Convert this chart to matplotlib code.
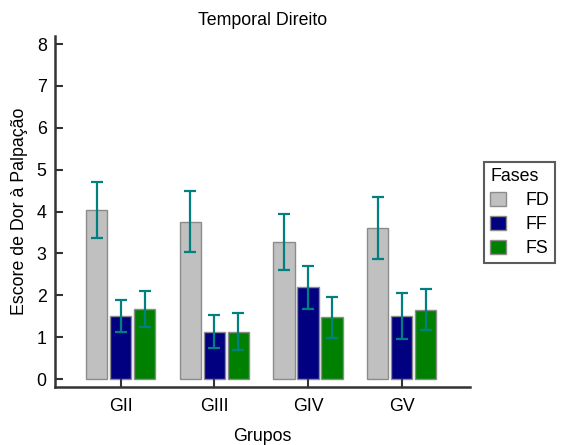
import matplotlib

matplotlib.use("Agg")

import matplotlib.pyplot as plt
import numpy as np

plt.rcParams["font.family"] = ["Liberation Sans", "DejaVu Sans"]

groups = ["GII", "GIII", "GIV", "GV"]
phases = ["FD", "FF", "FS"]
colors = ["#c0c0c0", "#000080", "#008000"]

fd_mean = [4.03, 3.76, 3.27, 3.61]
fd_err = [0.67, 0.73, 0.66, 0.74]
ff_mean = [1.50, 1.13, 2.19, 1.50]
ff_err = [0.38, 0.40, 0.52, 0.55]
fs_mean = [1.67, 1.13, 1.47, 1.66]
fs_err = [0.43, 0.44, 0.49, 0.50]

means = [fd_mean, ff_mean, fs_mean]
errs = [fd_err, ff_err, fs_err]

FS = 12.8

fig = plt.figure(figsize=(5.63, 4.45), dpi=100)
ax = fig.add_axes([0.0977, 0.1303, 0.7373, 0.7887])

x = np.arange(len(groups))
width = 0.225
step = 0.256
for i, (label, color) in enumerate(zip(phases, colors)):
    ax.bar(x + (i - 1) * step, means[i], width, color=color, edgecolor="#8c8c8c",
           linewidth=1, label=label)
    ax.errorbar(x + (i - 1) * step, means[i], yerr=errs[i], fmt="none",
                ecolor="#008080", elinewidth=1.6, capsize=4, capthick=1.6)

ax.set_xlim(-0.70, 3.73)
ax.set_ylim(-0.19, 8.19)
ax.set_yticks(range(0, 9))
ax.set_xticks(x)
ax.set_xticklabels(groups)
for side in ("top", "right"):
    ax.spines[side].set_visible(False)
for side in ("left", "bottom"):
    ax.spines[side].set_color("#333333")
    ax.spines[side].set_linewidth(1.8)
ax.tick_params(direction="in", length=6, width=1.5, color="#333333", labelsize=FS)
ax.tick_params(axis="x", pad=8)
ax.tick_params(axis="y", pad=6)

ax.set_title("Temporal Direito", fontsize=FS, pad=8)
ax.set_xlabel("Grupos", fontsize=FS, labelpad=9)
ax.set_ylabel("Escore de Dor à Palpação", fontsize=FS, labelpad=6)

leg = ax.legend(title="Fases", loc="upper left", bbox_to_anchor=(0.86, 0.636),
                bbox_transform=fig.transFigure, fancybox=False, edgecolor="#333333",
                fontsize=FS, title_fontsize=FS, handlelength=0.85, handleheight=0.85,
                borderpad=0.35, labelspacing=0.38, handletextpad=1.1, alignment="left",
                borderaxespad=0)
leg.get_frame().set_linewidth(1.5)

fig.savefig("out.png", dpi=100)
